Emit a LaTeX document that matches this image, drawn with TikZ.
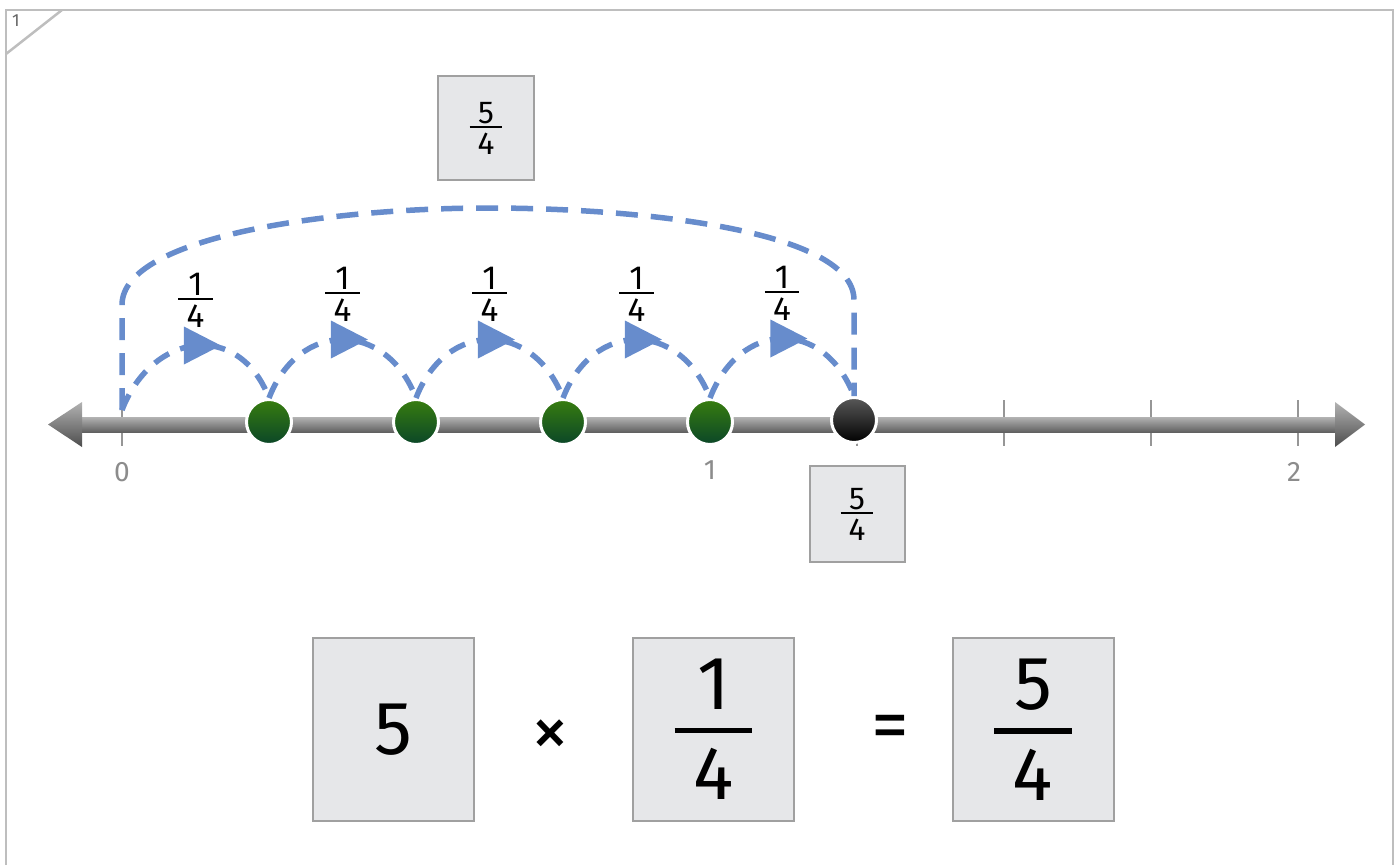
\documentclass[tikz,border=0pt]{standalone}
\usepackage{fontspec}
\setmainfont{Fira Sans}
\usetikzlibrary{positioning, arrows.meta, shapes.geometric}
\definecolor{hopblue}{RGB}{103,140,204}
\definecolor{boxg}{RGB}{230,231,233}
\definecolor{boxline}{RGB}{160,160,160}
\definecolor{frameg}{RGB}{190,190,190}
\definecolor{tickg}{RGB}{150,150,150}
\definecolor{labg}{RGB}{140,140,140}
\definecolor{dotgtop}{RGB}{55,125,15}
\definecolor{dotgbot}{RGB}{10,70,40}
% stacked fraction: numerator, denominator, gap above bar, gap below bar
\newcommand{\vfrac}[4]{\vbox{\offinterlineskip\halign{\hfil\kern.25em##\kern.25em\hfil\cr
  #1\cr\noalign{\kern#3\hrule height .07em\kern#4}#2\cr}}}

\begin{document}
\begin{tikzpicture}[x=0.02cm, y=-0.02cm,
       frame/.style={draw=frameg, line width=0.05cm},
       tick/.style={draw=tickg, line width=0.04cm},
       dot/.style={circle, inner sep=0pt, minimum size=0.9cm, draw=white,
         line width=0.06cm, top color=dotgtop, bottom color=dotgbot},
       enddot/.style={dot, top color=black!65, bottom color=black},
       hop/.style={draw=hopblue, line width=0.11cm, dash pattern=on 0.34cm off 0.24cm},
       bighop/.style={hop, dash pattern=on 0.44cm off 0.26cm},
       tri/.style={isosceles triangle, isosceles triangle stretches, fill=hopblue,
         inner sep=0pt, minimum width=0.76cm, minimum height=0.74cm},
       qbox/.style={draw=boxline, fill=boxg, line width=0.04cm, inner sep=0pt},
       lab/.style={text=labg, font=\fontsize{16}{18}\selectfont},
       small/.style={font=\fontsize{19}{22}\selectfont, inner sep=1pt},
       mid/.style={font=\fontsize{18}{21}\selectfont},
       big/.style={font=\fontsize{43}{48}\selectfont}]
     \useasboundingbox (0,0) rectangle (1395,865);
     % frame with cut corner
     \draw[frame] (6,865) -- (6,10) -- (1393,10) -- (1393,865);
     \draw[frame] (62,10) -- (6,54);
     \node[text=black!60, font=\fontsize{10}{12}\selectfont] (pg) at (16,21) {1};
     % number line
     \foreach \i in {0,...,8}
       \draw[tick] (122+147*\i,400) -- (122+147*\i,446);
     \shade[top color=black!30, bottom color=black!62] (80,417) rectangle (1337,432);
     \shade[top color=black!30, bottom color=black!70] (48,424.5) -- (82,402) -- (82,447) -- cycle;
     \shade[top color=black!30, bottom color=black!70] (1365,424.5) -- (1335,402) -- (1335,447) -- cycle;
     \node[lab] (l0) at (122,472) {0};
     \node[lab] (l1) at (710,470) {1};
     \node[lab] (l2) at (1294,472) {2};
     % points
     \coordinate (z0) at (122,410);
     \foreach \n/\x in {1/269, 2/416, 3/563, 4/710}
       \node[dot] (d\n) at (\x,422) {};
     \node[enddot] (d5) at (854,420) {};
     % hops of one quarter
     \foreach \a/\b [count=\i] in {z0/d1, d1/d2, d2/d3, d3/d4, d4/d5} {
       \draw[hop] (\a.north) .. controls +(30,-78) and +(-30,-78) .. (\b.north)
         node[tri, pos=0.5] (t\i) {};
       \node[small, above=0pt of t\i] (q\i) {\vfrac{1}{4}{.08em}{.12em}};
     }
     % the whole jump
     \draw[bighop] (z0) -- (122,305) .. controls +(0,-70) and +(-150,0) .. (488,208)
       .. controls +(150,0) and +(0,-70) .. (d5.north |- 0,300) -- (d5.north);
     \node[qbox, mid, minimum width=1.92cm, minimum height=2.08cm]
       (top) at (486,128) {\vfrac{5}{4}{.08em}{.14em}};
     \node[qbox, mid, minimum width=1.9cm, minimum height=1.92cm]
       (bot) at (857,514) {\vfrac{5}{4}{.08em}{.14em}};
     % equation
     \node[qbox, big, minimum width=3.22cm, minimum height=3.66cm] (f5) at (393.5,729.5) {5};
     \node[big] (times) at (550,738) {×};
     \node[qbox, big, minimum width=3.22cm, minimum height=3.66cm] (fq) at (713.5,729.5)
       {\vfrac{1}{4}{.24em}{.2em}};
     \node[big] (eq) at (890,733) {=};
     \node[qbox, big, minimum width=3.22cm, minimum height=3.66cm] (fr) at (1033,729.5)
       {\vfrac{5}{4}{.24em}{.2em}};
   \end{tikzpicture}
\end{document}
